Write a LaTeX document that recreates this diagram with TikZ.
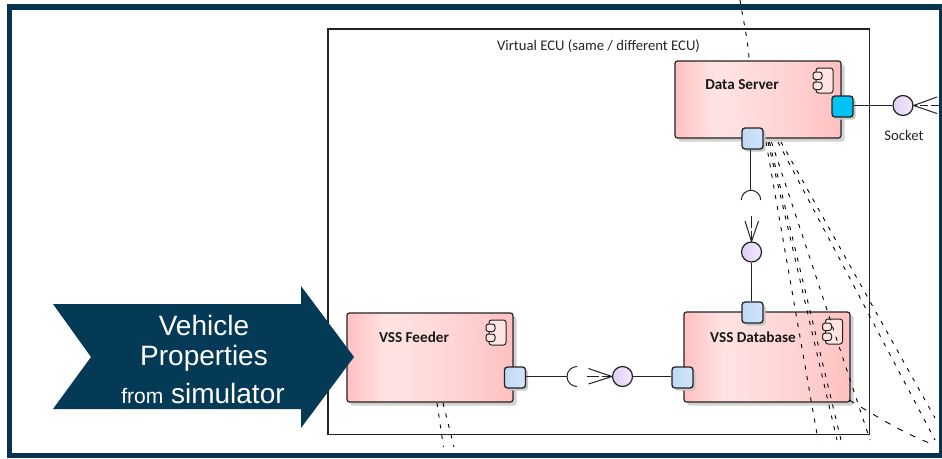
\documentclass[tikz,border=0pt]{standalone}
\usepackage{fontspec}
\setmainfont{Carlito}
\newfontfamily\arialfont{Liberation Sans}
\usetikzlibrary{shadows,arrows.meta}
\definecolor{navy}{HTML}{06344F}
\definecolor{arrowblue}{HTML}{053A56}
\definecolor{edge}{HTML}{222222}
\definecolor{compa}{HTML}{FFC0C0}
\definecolor{compb}{HTML}{FFE4E4}
\definecolor{compc}{HTML}{FFD2D2}
\definecolor{BlueA}{HTML}{BFD9F6}
\definecolor{CyanA}{HTML}{00C3F5}
\definecolor{LilacA}{HTML}{E0CFF5}
\definecolor{LilacB}{HTML}{F2E9FB}
\pgfdeclarehorizontalshading{compfill}{100bp}{color(0bp)=(compa); color(25bp)=(compa); color(37bp)=(compb); color(60bp)=(compc); color(75bp)=(compa); color(100bp)=(compa)}
\tikzset{
  x=1pt,y=-1pt,
  comp/.style={draw=edge,line width=1.2pt,rounded corners=2.5pt,shading=compfill,inner sep=0pt,
    drop shadow={shadow xshift=3.5pt,shadow yshift=-3.5pt,fill=black!18,opacity=1}},
  port/.style={draw=edge,line width=1.3pt,rounded corners=3pt,left color=BlueA,right color=BlueA!70!white,
    minimum size=21pt,inner sep=0pt,
    drop shadow={shadow xshift=2.5pt,shadow yshift=-2.5pt,fill=black!22,opacity=1}},
  cyanport/.style={draw=edge,line width=1.3pt,rounded corners=3pt,fill=CyanA,
    minimum size=21pt,inner sep=0pt,
    drop shadow={shadow xshift=2.5pt,shadow yshift=-2.5pt,fill=black!22,opacity=1}},
  ball/.style={circle,draw=edge,line width=1.2pt,left color=LilacA,right color=LilacB,minimum size=20pt,inner sep=0pt},
  wire/.style={draw=edge,line width=1.1pt},
  dep/.style={draw=black,line width=0.9pt,dash pattern=on 4pt off 6.8pt},
  title/.style={font=\bfseries\fontsize{15.2}{17}\selectfont,text=black!90,inner sep=0pt},
  plain/.style={font=\fontsize{14.7}{17}\selectfont,text=black!85,inner sep=0pt},
  iconbody/.style={draw=edge,line width=1pt,fill=compb,rounded corners=2.5pt},
  lug/.style={draw=edge,line width=1pt,fill=compb,rounded corners=2.5pt},
  big/.style={font=\arialfont\fontsize{28}{30}\selectfont,text=white,inner sep=0pt},
}
\newcommand{\compicon}[2]{%
  \draw[iconbody] (#1,#2) rectangle ++(17,25);
  \draw[lug] (#1-3,#2+4) rectangle ++(9,7.5);
  \draw[lug] (#1-3,#2+14) rectangle ++(9,7.5);
}
\begin{document}
\begin{tikzpicture}
\useasboundingbox (0,0) rectangle (942,458);
\fill[white] (0,0) rectangle (942,458);
\fill[navy] (6.5,4) rectangle (942,458);
\fill[white] (12,10) rectangle (939,453);

% outer box
\node[draw=edge,line width=1.1pt,fill=white,minimum width=541.5pt,minimum height=405.5pt,inner sep=0pt] (ecu) at (598.75,231.75) {};
\node[plain] (ecutitle) at (598.5,46) {Virtual ECU (same / different ECU)};

% components
\node[comp,minimum width=166pt,minimum height=77pt] (ds) at (758,99.5) {};
\node[comp,minimum width=166pt,minimum height=90pt] (db) at (767,357) {};
\node[comp,minimum width=166pt,minimum height=89pt] (vf) at (430,357.5) {};
\node[title] (dst) at (742,85) {Data Server};
\node[title] (dbt) at (753,337) {VSS Database};
\node[title] (vft) at (414,337) {VSS Feeder};
\compicon{816}{68}
\compicon{825.5}{319}
\compicon{489}{320}

% dependencies
\coordinate (t0) at (740,0);   \coordinate (t1) at (749,58);
\draw[dep] (t0) .. controls (742,14) and (748,40) .. (t1);
\coordinate (a1) at (766,142); \coordinate (b1) at (818,440);
\coordinate (a2) at (768,142); \coordinate (b2) at (837,440);
\coordinate (a3) at (769.5,142); \coordinate (b3) at (841,440);
\coordinate (a4) at (771.5,142); \coordinate (b4) at (870,440);
\coordinate (a5) at (778,142); \coordinate (b5) at (935,440);
\coordinate (a6) at (781,142); \coordinate (b6) at (935,418);
\coordinate (c0) at (849,400); \coordinate (c1) at (932,444);
\foreach \i in {1,...,6} {\draw[dep] (a\i) -- (b\i);}
\draw[dep,dash pattern=on 6pt off 8pt] (c0) .. controls (870,412) and (900,432) .. (c1);
\coordinate (f1) at (437,403); \coordinate (f2) at (443.5,447);
\coordinate (g1) at (443,403); \coordinate (g2) at (454,447);
\draw[dep] (f1) -- (f2);
\draw[dep] (g1) -- (g2);

% ports
\node[cyanport] (pc) at (842.5,106.5) {};
\node[port] (pds) at (752.5,138.5) {};
\node[port] (pdb) at (752.5,312.5) {};
\node[port] (pdl) at (682.5,377.5) {};
\node[port] (pvf) at (515,377.5) {};

% lollipops
\node[ball] (bs) at (903,105.5) {};
\node[ball] (bv) at (751.5,252) {};
\node[ball] (bh) at (622.5,376.5) {};
\node[plain] (socket) at (904,135) {Socket};

% socket connector
\draw[wire] (pc.east |- bs) -- (bs);
\coordinate (sa) at (937,97); \coordinate (sb) at (937,113.5); \coordinate (sc) at (939,105.5);
\draw[wire,line width=1pt] (sa) -- (bs.east) -- (sb);
\draw[wire,line width=1pt,dash pattern=on 8pt off 3pt on 8pt off 3pt] (sc) -- (bs.east);

% vertical connector
\coordinate (vt) at (750.5,190);
\draw[wire] (pds.south -| vt) -- (vt);
\draw[wire,line width=1pt] (741.3,200) arc[start angle=180,end angle=360,radius=9.7];
\coordinate (va) at (745,221); \coordinate (vb) at (758.5,221); \coordinate (vc) at (751.5,216);
\draw[wire,line width=1pt] (va) -- (bv.north) -- (vb);
\draw[wire,line width=1pt,dash pattern=on 12pt off 3pt on 10pt off 3pt] (vc) -- (bv.north);
\draw[wire] (bv) -- (bv |- pdb.north);

% horizontal connector
\coordinate (hl) at (567,376.5);
\draw[wire] (pvf.east |- hl) -- (hl);
\draw[wire,line width=1pt] (577,366.5) arc[start angle=270,end angle=90,radius=10];
\coordinate (ha) at (588.5,368.5); \coordinate (hb) at (588.5,384); \coordinate (hc) at (586.5,376.5);
\draw[wire,line width=1pt] (ha) -- (bh.west) -- (hb);
\draw[wire,line width=1pt,dash pattern=on 12pt off 3pt on 10pt off 3pt] (hc) -- (bh.west);
\draw[wire] (bh) -- (pdl.west |- bh);

% big arrow
\fill[arrowblue] (53,304) -- (91,357) -- (53,409) -- (301,409) -- (301,428) -- (354,357) -- (301,286) -- (301,304) -- cycle;
\node[big] (v1) at (204,325) {Vehicle};
\node[big] (v2) at (204,358) {Properties};
\node[big] (v3) at (203,393) {{\fontsize{21}{24}\selectfont from} simulator};
\end{tikzpicture}
\end{document}
